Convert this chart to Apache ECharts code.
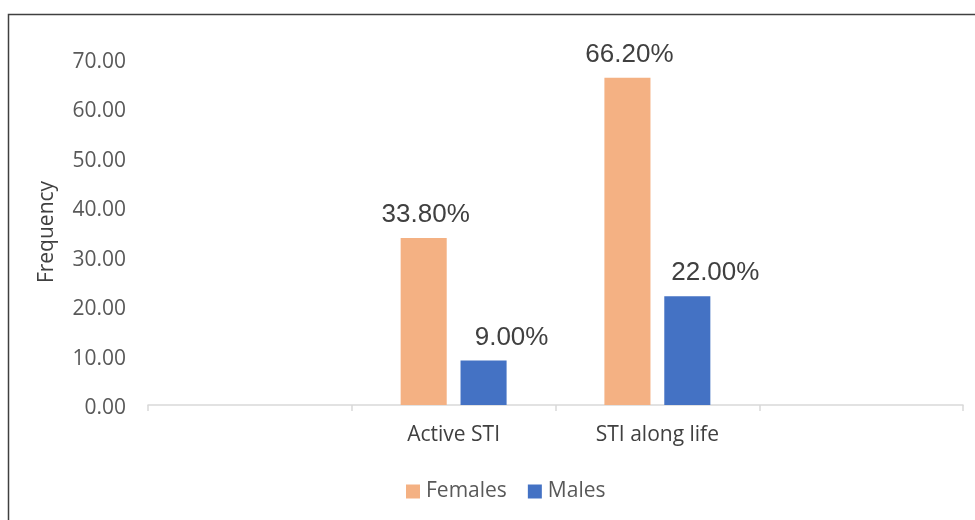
<!DOCTYPE html>
<html><head><meta charset="utf-8">
<script src="https://cdn.jsdelivr.net/npm/echarts@6/dist/echarts.min.js"></script>
<style>html,body{margin:0;padding:0;background:#fff}#c{width:975px;height:520px}</style>
</head><body><div id="c"></div>
<script>
const categories = ['', 'Active STI', 'STI along life', ''];
const females = [null, 33.8, 66.2, null];
const males = [null, 9.0, 22.0, null];
const yTicks = { min: 0, max: 70, interval: 10 };
const seriesNames = ['Females', 'Males'];

const chart = echarts.init(document.getElementById('c'));
const lbl = (dx) => ({
  show: true, position: 'top', distance: 10, offset: [dx, 0],
  fontFamily: 'Liberation Sans', fontSize: 26, color: '#404040',
  formatter: p => p.value == null ? '' : p.value.toFixed(2) + '%'
});
chart.setOption({
  animation: false,
  graphic: [{ type: 'rect', shape: { x: 8.5, y: 14.5, width: 1000, height: 600 },
    style: { fill: 'none', stroke: '#404040', lineWidth: 1.5 }, silent: true }],
  grid: { left: 148, right: 12, top: 59, bottom: 115 },
  legend: {
    bottom: 13, left: 401, itemWidth: 14, itemHeight: 14, itemGap: 21,
    icon: 'rect',
    textStyle: { fontFamily: 'Open Sans', fontSize: 21, color: '#595959', padding: [0, 0, 0, 1] },
    data: seriesNames
  },
  xAxis: {
    type: 'category', data: categories,
    axisLine: { lineStyle: { color: '#d9d9d9', width: 1.5 } },
    axisTick: { show: true, length: 6, lineStyle: { color: '#d9d9d9', width: 1.5 } },
    axisLabel: { fontFamily: 'Open Sans', fontSize: 21, color: '#404040', margin: 20 }
  },
  yAxis: {
    type: 'value', min: yTicks.min, max: yTicks.max, interval: yTicks.interval,
    name: 'Frequency', nameLocation: 'middle', nameGap: 90, nameRotate: 90,
    nameTextStyle: { fontFamily: 'Open Sans', fontSize: 21, color: '#404040' },
    axisLine: { show: false }, axisTick: { show: false },
    splitLine: { show: false },
    axisLabel: { margin: 22,
      formatter: v => '{a|' + v.toFixed(2) + '}',
      rich: { a: { fontFamily: 'Open Sans', fontSize: 21, color: '#595959', padding: [6, 0, 0, 0] } } }
  },
  series: [
    { name: seriesNames[0], type: 'bar', data: females, barGap: '30%', barCategoryGap: '48%',
      itemStyle: { color: '#f4b183' }, label: lbl(2) },
    { name: seriesNames[1], type: 'bar', data: males,
      itemStyle: { color: '#4472c4' }, label: lbl(28) }
  ]
});
</script></body></html>
